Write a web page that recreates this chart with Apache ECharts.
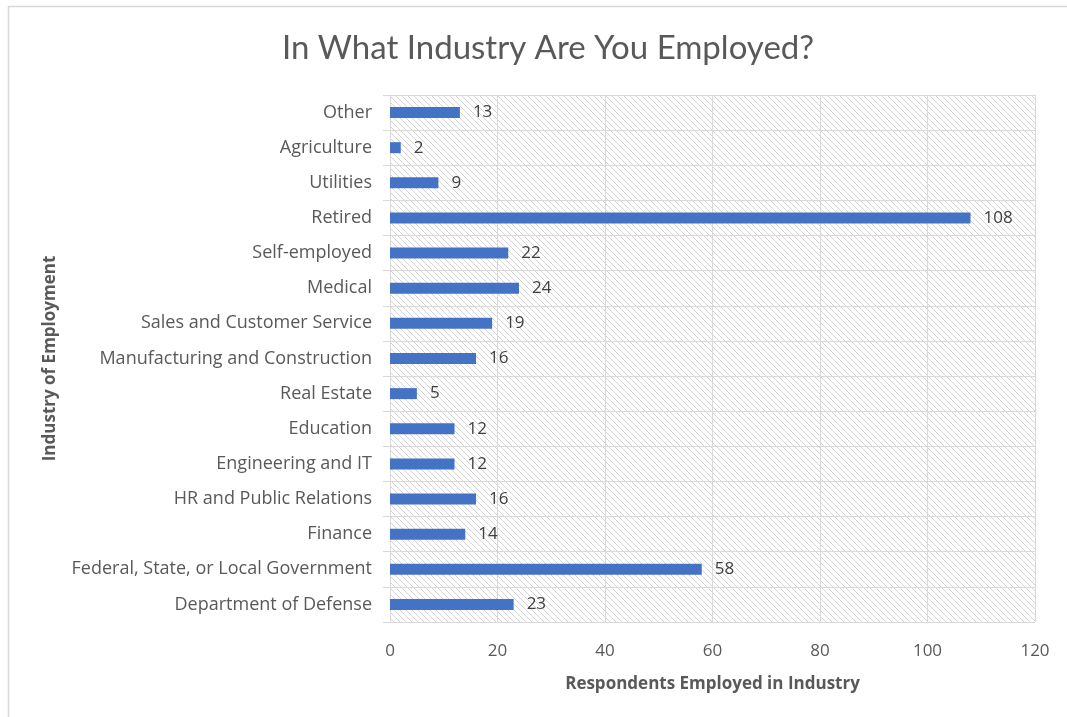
<!DOCTYPE html>
<html>
<head>
<meta charset="utf-8">
<script src="https://cdn.jsdelivr.net/npm/echarts@6/dist/echarts.min.js"></script>
<style>
  html, body { margin: 0; padding: 0; background: #ffffff; }
  #chart { width: 1067px; height: 717px; }
</style>
</head>
<body>
<div id="chart"></div>
<script>
// Industries, listed from the bottom of the axis to the top
const industries = [
  'Department of Defense',
  'Federal, State, or Local Government',
  'Finance',
  'HR and Public Relations',
  'Engineering and IT',
  'Education',
  'Real Estate',
  'Manufacturing and Construction',
  'Sales and Customer Service',
  'Medical',
  'Self-employed',
  'Retired',
  'Utilities',
  'Agriculture',
  'Other'
];
// Number of respondents in each industry
const respondents = [23, 58, 14, 16, 12, 12, 5, 16, 19, 24, 22, 108, 9, 2, 13];
// Value axis range
const axisMin = 0;
const axisMax = 120;
const axisStep = 20;

// Diagonal hatch tile for the plot background
function makeHatch() {
  const size = 6;
  const c = document.createElement('canvas');
  c.width = size; c.height = size;
  const ctx = c.getContext('2d');
  ctx.fillStyle = '#ffffff';
  ctx.fillRect(0, 0, size, size);
  ctx.strokeStyle = '#d4d4d4';
  ctx.lineWidth = 1;
  ctx.beginPath();
  ctx.moveTo(-1, -1); ctx.lineTo(size + 1, size + 1);
  ctx.moveTo(-1, size - 1); ctx.lineTo(1, size + 1);
  ctx.moveTo(size - 1, -1); ctx.lineTo(size + 1, 1);
  ctx.stroke();
  return c;
}

const chart = echarts.init(document.getElementById('chart'), null, { renderer: 'canvas' });
const fontFamily = '"Open Sans", "Noto Sans", sans-serif';

chart.setOption({
  backgroundColor: '#ffffff',
  animation: false,
  title: {
    text: 'In What Industry Are You Employed?',
    left: 277,
    top: 27,
    textStyle: { fontFamily: 'Lato, "Open Sans", sans-serif', fontSize: 33, fontWeight: 'normal', color: '#595959' }
  },
  graphic: [{
    type: 'rect',
    shape: { x: 8.5, y: 6.5, width: 1200, height: 800 },
    style: { fill: 'none', stroke: '#d9d9d9', lineWidth: 1.5 },
    silent: true
  }],
  grid: {
    left: 390, right: 32, top: 95, bottom: 95,
    show: true,
    backgroundColor: { image: makeHatch(), repeat: 'repeat' },
    borderWidth: 0
  },
  xAxis: {
    type: 'value',
    min: axisMin, max: axisMax, interval: axisStep,
    name: 'Respondents Employed in Industry',
    nameLocation: 'middle',
    nameGap: 54,
    nameTextStyle: { fontFamily: fontFamily, fontSize: 17, fontWeight: 'bold', color: '#595959' },
    axisLine: { show: false },
    axisTick: { show: false },
    axisLabel: { fontFamily: fontFamily, fontSize: 17, color: '#595959', margin: 21 },
    splitLine: { show: true, lineStyle: { color: '#d9d9d9', width: 1 } }
  },
  yAxis: {
    type: 'category',
    data: industries,
    name: 'Industry of Employment',
    nameLocation: 'middle',
    nameGap: 331,
    nameRotate: 90,
    nameTextStyle: { fontFamily: fontFamily, fontSize: 17, fontWeight: 'bold', color: '#595959' },
    axisLine: { show: true, lineStyle: { color: '#d9d9d9' } },
    axisTick: { show: true, length: 7, lineStyle: { color: '#d9d9d9' } },
    axisLabel: { fontFamily: fontFamily, fontSize: 18, color: '#595959', margin: 18, padding: [3, 0, 0, 0] },
    splitLine: { show: true, lineStyle: { color: '#d9d9d9', width: 1 } }
  },
  series: [{
    type: 'bar',
    data: respondents,
    barWidth: 11,
    itemStyle: { color: '#4472c4' },
    label: {
      show: true,
      position: 'right',
      distance: 13,
      fontFamily: fontFamily,
      fontSize: 17,
      color: '#404040',
      padding: [3, 0, 0, 0]
    }
  }]
});
</script>
</body>
</html>
